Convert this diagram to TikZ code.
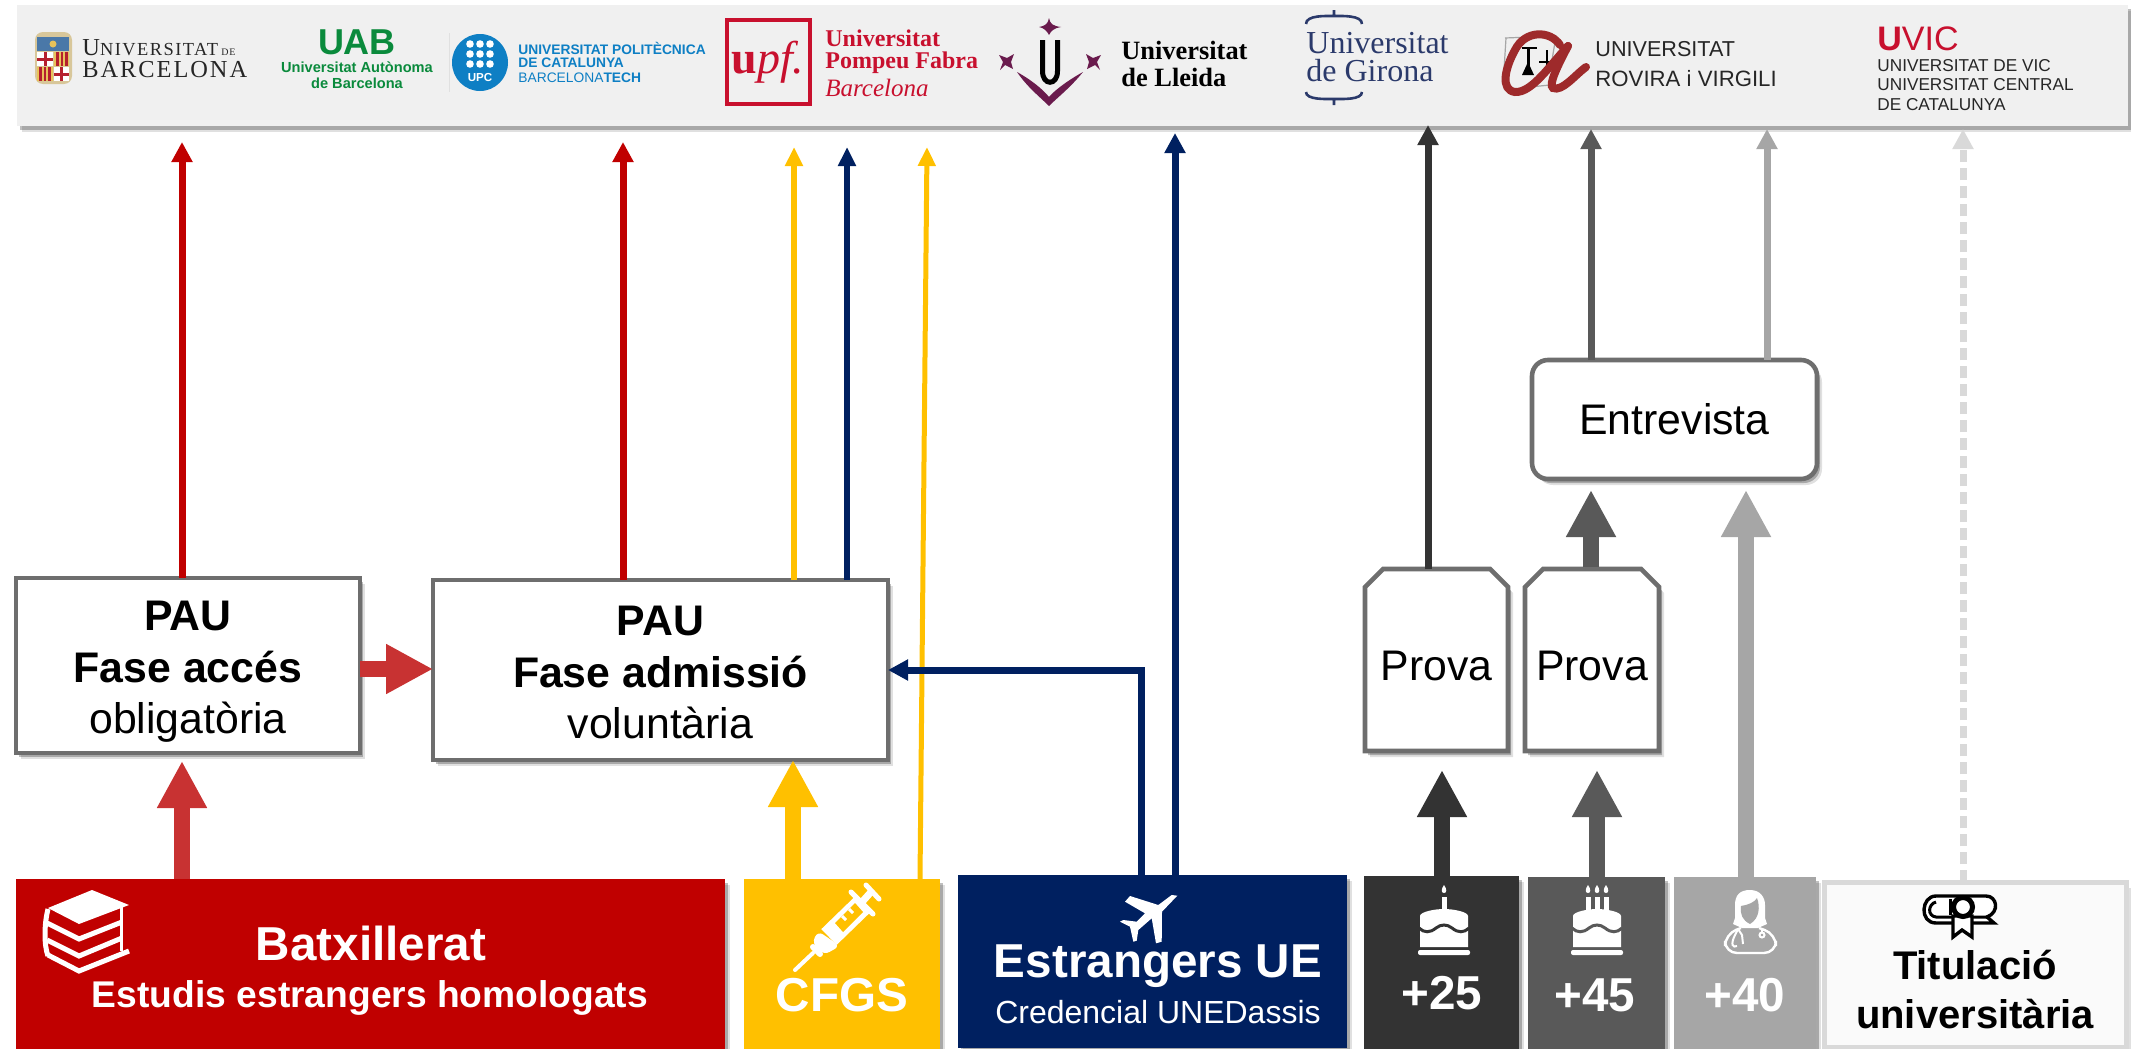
\documentclass[tikz,border=0pt]{standalone}
\usepackage{fontspec}
\setmainfont{Liberation Sans}
\newfontfamily\serifFont{Liberation Serif}
\newfontfamily\ubFont[LetterSpace=8]{Liberation Serif}
\usetikzlibrary{arrows.meta,shadows,shapes.misc}

\definecolor{batRed}{HTML}{C00000}
\definecolor{softRed}{HTML}{C83232}
\definecolor{cfgsYellow}{HTML}{FFC000}
\definecolor{estNavy}{HTML}{002060}
\definecolor{gray25}{HTML}{333333}
\definecolor{gray45}{HTML}{595959}
\definecolor{gray40}{HTML}{A6A6A6}
\definecolor{grayTit}{HTML}{D9D9D9}
\definecolor{boxGray}{HTML}{6E6E6E}
\definecolor{bandGray}{HTML}{F0F0F0}
\definecolor{logoRed}{HTML}{C8102E}
\definecolor{uabGreen}{HTML}{0A8A3C}
\definecolor{upcBlue}{HTML}{0E7FC4}
\definecolor{udlPurple}{HTML}{6A1B4D}
\definecolor{udgBlue}{HTML}{2B3A6B}
\definecolor{urvRed}{HTML}{9E2A2B}
\definecolor{shieldTan}{HTML}{D8C79A}
\definecolor{shieldBlue}{HTML}{4A78A8}
\definecolor{shieldRed}{HTML}{B5202E}
\definecolor{shieldGold}{HTML}{E8C25A}

\tikzset{
    softShadow/.style={drop shadow={shadow xshift=2.5pt,shadow yshift=-3pt,fill=black,opacity=.12},
        drop shadow={shadow xshift=1.5pt,shadow yshift=-2pt,fill=black,opacity=.25}},
    stageBox/.style={draw=boxGray,line width=2.3pt,fill=white,inner sep=0pt,outer sep=0pt,align=center,softShadow,
        font=\fontsize{21.4}{25.8}\selectfont},
    provaBox/.style={stageBox,chamfered rectangle,chamfered rectangle corners={north west,north east},
        chamfered rectangle xsep=4.5pt,chamfered rectangle ysep=4.5pt,text height=20.3pt},
    routeBox/.style={inner sep=0pt,outer sep=0pt,softShadow},
    whiteText/.style={text=white,inner sep=0pt,font=\bfseries\fontsize{23.8}{28}\selectfont},
    logoText/.style={anchor=west,inner sep=0pt,align=left},
    fatArrow/.style={line width=8pt,-{Triangle[length=23.5pt,width=23.5pt]}},
    thinArrow/.style={line width=3.5pt,-{Triangle[length=10pt,width=10pt]}},
    slimArrow/.style={line width=3pt,-{Triangle[length=9.5pt,width=8.5pt]}},
}

\begin{document}
\begin{tikzpicture}[x=0.5pt,y=-0.5pt]
    \useasboundingbox (0,0) rectangle (2131,1049);

    % Band of universities
    \node [routeBox,fill=bandGray,minimum width=1055.5pt,minimum height=60.5pt] (unis) at (1072.5,65.5) {};

    % Stages
    \node [stageBox,minimum width=172pt,minimum height=87.5pt] (pauAcces) at (188,665.5)
        {\rule{0pt}{21pt}\textbf{PAU}\\\textbf{Fase accés}\\obligatòria};
    \node [stageBox,minimum width=227.5pt,minimum height=90pt] (pauAdmissio) at (660.5,670)
        {\rule{0pt}{17.5pt}\textbf{PAU}\\\textbf{Fase admissió}\\voluntària};
    \node [provaBox,minimum width=71.5pt,minimum height=91pt] (provaA) at (1436.5,660) {Prova};
    \node [provaBox,minimum width=67pt,minimum height=91pt] (provaB) at (1592,660) {Prova};
    \node [stageBox,rounded corners=8pt,minimum width=142.5pt,minimum height=59.5pt] (entrevista) at (1674.5,419.5) {Entrevista};

    % Routes
    \node [routeBox,fill=batRed,minimum width=354.5pt,minimum height=85pt] (batxillerat) at (370.5,964) {};
    \node [routeBox,fill=cfgsYellow,minimum width=98pt,minimum height=85pt] (cfgs) at (842,964) {};
    \node [routeBox,fill=estNavy,minimum width=194.5pt,minimum height=86.5pt] (estrangers) at (1152.5,961.5) {};
    \node [routeBox,fill=gray25,minimum width=77.5pt,minimum height=86.5pt] (major25) at (1441.5,962.5) {};
    \node [routeBox,fill=gray45,minimum width=68.5pt,minimum height=86pt] (major45) at (1596.5,963) {};
    \node [routeBox,fill=gray40,minimum width=71pt,minimum height=86pt] (major40) at (1745,963) {};
    \node [routeBox,draw=grayTit,line width=2.5pt,fill=white!98!black,minimum width=151pt,minimum height=82.5pt] (titulacio) at (1975,964.5) {};

    \node [whiteText] (batLabel) at (371,943) {Batxillerat};
    \node [whiteText,font=\bfseries\fontsize{18.6}{22}\selectfont] (batSub) at (370,998) {Estudis estrangers homologats};
    \node [whiteText] (cfgsLabel) at (842,995) {CFGS};
    \node [whiteText] (estLabel) at (1158,966) {Estrangers UE};
    \node [whiteText,font=\fontsize{16}{20}\selectfont] (estSub) at (1158,1012) {Credencial UNEDassis};
    \node [whiteText] (label25) at (1442,993) {+25};
    \node [whiteText] (label45) at (1595,995) {+45};
    \node [whiteText] (label40) at (1745,995) {+40};
    \node [inner sep=0pt,align=center,font=\bfseries\fontsize{20}{24.5}\selectfont] (titLabel) at (1975,990) {Titulació\\universitària};

    % Ends of the connectors
    \coordinate (A) at (182,142);
    \coordinate (B) at (623,142);
    \coordinate (C) at (794,147);
    \coordinate (D) at (847,147);
    \coordinate (E) at (927,147);
    \coordinate (F) at (920,879);
    \coordinate (G) at (1175,133);
    \coordinate (H) at (1428,125);
    \coordinate (I) at (1591,129);
    \coordinate (J) at (1767,129);
    \coordinate (K) at (1963,129);
    \coordinate (L) at (1141,670);

    % Connectors to the universities
    \draw [thinArrow,batRed] (A |- pauAcces.north) -- (A);
    \draw [thinArrow,batRed] (B |- pauAdmissio.north) -- (B);
    \draw [slimArrow,cfgsYellow] (C |- pauAdmissio.north) -- (C);
    \draw [slimArrow,estNavy] (D |- pauAdmissio.north) -- (D);
    \draw [slimArrow,line width=2.5pt,cfgsYellow] (F) -- (E);
    \draw [thinArrow,estNavy] (G |- estrangers.north) -- (G);
    \draw [thinArrow,gray25] (H |- provaA.north) -- (H);
    \draw [thinArrow,gray45] (I |- entrevista.north) -- (I);
    \draw [thinArrow,gray40] (J |- entrevista.north) -- (J);
    \draw [thinArrow,grayTit,dash pattern=on 6pt off 3pt] (K |- titulacio.north) -- (K);
    \draw [thinArrow,estNavy] (L |- estrangers.north) -- (L) -- (pauAdmissio.east |- L);

    % Connectors between the stages
    \draw [fatArrow,softRed] (pauAcces.east |- 0,669) -- (pauAdmissio.west |- 0,669);
    \draw [fatArrow,softRed] (182,879) -- (182,761);
    \draw [fatArrow,cfgsYellow] (793,879) -- (793,760);
    \draw [fatArrow,gray25] (1442,876) -- (1442,770);
    \draw [fatArrow,gray45] (1597,877) -- (1597,770);
    \draw [fatArrow,gray45] (1591,567) -- (1591,490);
    \draw [fatArrow,gray40] (1746,877) -- (1746,490);

    % Draw a cake at x-position 1 with candles at offsets 2 and the wave in colour 3
    \def\drawCake#1#2#3{
        \begin{scope}[shift={(#1,0)},white]
            \fill (-24,947) -- (-24,916) .. controls (-24,912) and (-10,909) .. (0,909) .. controls (10,909) and (24,912) .. (24,916) -- (24,947) -- cycle;
            \draw [#3,line width=1.5pt] (-25,928) .. controls (-20,933) and (-14,933) .. (-8,928) .. controls (-3,924) and (3,924) .. (8,928) .. controls (14,933) and (20,933) .. (25,928);
            \fill [rounded corners=1pt] (-26,950) rectangle (26,955);
            \foreach \cx in {#2} {
                \fill (\cx-2.5,910) rectangle (\cx+2.5,897);
                \fill (\cx,885) .. controls (\cx+3,889) and (\cx+3,893) .. (\cx,893) .. controls (\cx-3,893) and (\cx-3,889) .. (\cx,885);
            }
        \end{scope}
    }
    \drawCake{1444}{0}{gray25}
    \drawCake{1597}{-9,0,9}{gray45}

    % Books
    \fill [white] (92,890) -- (129,905) -- (79,924) -- (48,908) -- cycle;
    \draw [white,line width=2.5pt] (48,909) .. controls (44,925) and (44,945) .. (48,956);
    \draw [white,line width=2.5pt] (47,923) -- (79,939) -- (122,922);
    \draw [white,line width=2.5pt] (47,940) -- (79,956) -- (122,938);
    \draw [white,line width=2.5pt] (48,955) -- (79,971) -- (129,951);
    \draw [white,line width=1.5pt] (121,905) -- (121,951);

    % Syringe
    \draw [white,line width=2pt,line cap=round] (795,970) -- (813,953);
    \draw [white,line width=3pt,line cap=round] (813,947) -- (820,954);
    \fill [white,rounded corners=3pt] (818,931) -- (840,946) -- (824,955) -- (812,943) -- cycle;
    \draw [white,line width=11pt] (829,937) -- (862,905);
    \fill [cfgsYellow] (835,923) -- (843,932) -- (863,912) -- (855,903) -- cycle;
    \draw [white,line width=1.5pt] (842,916) -- (846,920);
    \draw [white,line width=1.5pt] (849,909) -- (853,913);
    \draw [white,line width=2.5pt,line cap=round] (851,892) -- (873,914);
    \draw [white,line width=3.5pt] (862,902) -- (871,892);
    \draw [white,line width=2.5pt,line cap=round] (866,885) -- (879,899);

    % Plane
    \fill [white] (1177.3,895.7) -- (1162,911.7) -- (1161.7,941.7) -- (1156,943.3) -- (1151.7,918.3) -- (1138.3,930) -- (1136.7,940.7) -- (1133.3,941.7) -- (1130,926.7) -- (1120,921.7) -- (1123.3,920) -- (1136.7,921.7) -- (1145,913.3) -- (1125,901.7) -- (1130,896) -- (1158.3,905) -- (1171.7,895) -- cycle;

    % Nurse
    \fill [white] (1750,890) .. controls (1760,890) and (1765,897) .. (1765,905) -- (1765,918) -- (1767,924) -- (1758,928) -- (1742,928) -- (1733,924) -- (1735,918) -- (1735,905) .. controls (1735,895) and (1740,890) .. (1750,890);
    \fill [gray40] (1741,906) .. controls (1748,905) and (1755,902) .. (1757,898) .. controls (1760,906) and (1760,918) .. (1750,924) .. controls (1742,920) and (1740,914) .. (1741,906);
    \draw [white,line width=1.2pt,rounded corners=6pt] (1741,928) -- (1725,934) -- (1725,953) -- (1776,953) -- (1776,934) -- (1759,928);
    \draw [white,line width=1pt] (1738,929) -- (1735,935) .. controls (1730,945) and (1733,948) .. (1737,946);
    \draw [white,line width=1pt] (1738,929) -- (1742,935) -- (1743,944);
    \draw [white,line width=1pt] (1762,929) -- (1762,933);
    \draw [white,line width=1pt] (1762,935) circle (2.5);

    % Diploma
    \draw [line width=1.7pt,fill=white] (1936,896) -- (1986,896) .. controls (1997,896) and (2000,912) .. (1987,917) -- (1994,923) -- (1936,923) .. controls (1919,923) and (1921,896) .. (1936,896);
    \draw [line width=1.5pt] (1936,902) .. controls (1928,904) and (1927,916) .. (1936,917) -- (1987,917);
    \draw [line width=1.5pt] (1950,899) -- (1950,915);
    \draw [line width=1.7pt,fill=white] (1953,916) -- (1953,937) -- (1962,930) -- (1972,937) -- (1972,916) -- cycle;
    \draw [line width=2.5pt,fill=white] (1963,907) circle (9.5);

    % Logo UB
    \fill [shieldTan,rounded corners=4pt] (35,32) rectangle (72,84);
    \fill [shieldBlue] (37,37) rectangle (69,51);
    \fill [shieldGold] (53,44) circle (3.5);
    \fill [white] (37,52) rectangle (53,66);
    \fill [shieldRed] (43.5,52) rectangle (46.5,66);
    \fill [shieldRed] (37,57.5) rectangle (53,60.5);
    \fill [shieldGold] (54,52) rectangle (69,66);
    \foreach \sx in {56,60.5,65} \fill [shieldRed] (\sx,52) rectangle (\sx+2.5,66);
    \fill [shieldGold] (37,67) rectangle (53,81);
    \foreach \sx in {39,43.5,48} \fill [shieldRed] (\sx,67) rectangle (\sx+2.5,81);
    \fill [white] (54,67) rectangle (69,81);
    \fill [shieldRed] (60,67) rectangle (63,81);
    \fill [shieldRed] (54,72.5) rectangle (69,75.5);
    \node [logoText,text=black!85] (ubOne) at (82,48) {\ubFont\fontsize{12.2}{14}\selectfont U\fontsize{9.2}{14}\selectfont NIVERSITAT\fontsize{5}{14}\selectfont\ DE};
    \node [logoText,text=black!85] (ubTwo) at (82,70) {\ubFont\fontsize{12.2}{14}\selectfont BARCELONA};

    % Logo UAB
    \node [inner sep=0pt,text=uabGreen,font=\bfseries\fontsize{18}{20}\selectfont] (uabOne) at (357,42) {UAB};
    \node [inner sep=0pt,text=uabGreen,align=center,font=\bfseries\fontsize{7.3}{8}\selectfont] (uabTwo) at (357,75) {Universitat Autònoma\\de Barcelona};

    % Logo UPC
    \draw [black!12,line width=.5pt] (449,33) -- (449,92);
    \fill [upcBlue] (480,62.5) ellipse (28 and 28.5);
    \foreach \dx in {-10,0,10} \foreach \dy in {44,54,64} \fill [white] (480+\dx,\dy) circle (3.8);
    \node [inner sep=0pt,text=white,font=\bfseries\fontsize{5.8}{7}\selectfont] (upcMark) at (480,78) {UPC};
    \node [logoText,text=upcBlue,font=\fontsize{6.9}{8}\selectfont] (upcOne) at (518,48) {\textbf{UNIVERSITAT POLITÈCNICA}};
    \node [logoText,text=upcBlue,font=\fontsize{6.9}{8}\selectfont] (upcTwo) at (518,63) {\textbf{DE CATALUNYA}};
    \node [logoText,text=upcBlue,font=\fontsize{6.9}{8}\selectfont] (upcThree) at (518,78) {BARCELONA\textbf{TECH}};

    % Logo UPF
    \draw [logoRed,line width=2pt] (727,20) rectangle (810,104);
    \node [inner sep=0pt,text=logoRed,font=\serifFont\fontsize{23}{26}\selectfont] (upfMark) at (768,62) {\textbf{u}\textit{pf.}};
    \node [logoText,text=logoRed,font=\serifFont\fontsize{12}{14}\selectfont] (upfOne) at (825,38) {\textbf{Universitat}};
    \node [logoText,text=logoRed,font=\serifFont\fontsize{12}{14}\selectfont] (upfTwo) at (825,63) {\textbf{Pompeu Fabra}};
    \node [logoText,text=logoRed,font=\serifFont\fontsize{12.5}{14}\selectfont] (upfThree) at (825,88) {\textit{Barcelona}};

    % Logo UdL
    \fill [udlPurple] (1049,18) .. controls (1050,24) and (1053,26) .. (1061,27) .. controls (1054,28) and (1051,31) .. (1049,35) .. controls (1047,31) and (1044,28) .. (1039,27) .. controls (1045,26) and (1048,24) .. (1049,18);
    \draw [black,line width=2.5pt] (1042.5,40) -- (1042.5,71) .. controls (1042.5,86) and (1057.5,86) .. (1057.5,71) -- (1057.5,40);
    \fill [udlPurple] (1017,72) .. controls (1035,82) and (1045,92) .. (1049,97) .. controls (1053,92) and (1065,82) .. (1083,72) .. controls (1070,88) and (1058,97) .. (1049,106) .. controls (1040,97) and (1028,88) .. (1017,72);
    \fill [udlPurple] (999,55) -- (1007,58) -- (1014,54) -- (1011,62) -- (1013,69) -- (1005,65) -- (1000,70) -- (1003,62) -- cycle;
    \fill [udlPurple] (1101,55) -- (1093,58) -- (1086,54) -- (1089,62) -- (1087,69) -- (1095,65) -- (1100,70) -- (1097,62) -- cycle;
    \node [logoText,font=\serifFont\bfseries\fontsize{13.2}{15}\selectfont] (udlOne) at (1121,50) {Universitat};
    \node [logoText,font=\serifFont\bfseries\fontsize{13.2}{15}\selectfont] (udlTwo) at (1121,77) {de Lleida};

    % Logo UdG
    \draw [udgBlue,line width=1.3pt] (1306,24) .. controls (1306,15) and (1326,16) .. (1334,16) -- (1334,10) -- (1334,16) .. controls (1342,16) and (1362,15) .. (1362,24);
    \draw [udgBlue,line width=1.3pt] (1306,92) .. controls (1306,100) and (1326,99) .. (1334,99) -- (1334,105) -- (1334,99) .. controls (1342,99) and (1362,100) .. (1362,92);
    \node [logoText,text=udgBlue,font=\serifFont\fontsize{16}{18}\selectfont] (udgOne) at (1306,43) {Universitat};
    \node [logoText,text=udgBlue,font=\serifFont\fontsize{16}{18}\selectfont] (udgTwo) at (1306,71) {de Girona};

    % Logo URV
    \draw [black!35,line width=.6pt] (1505,38) -- (1556,36) -- (1552,60);
    \draw [black!35,line width=.6pt] (1506,38) -- (1504,70);
    \draw [black!35,line width=.6pt] (1520,88) -- (1550,85);
    \draw [black,line width=1pt] (1522,48) -- (1537,48);
    \draw [black,line width=1.5pt] (1528,48) -- (1528,74);
    \fill [black] (1522,75) -- (1528,62) -- (1534,75) -- cycle;
    \draw [black,line width=1pt] (1547,50) -- (1547,75);
    \draw [black,line width=1pt] (1539,62) -- (1553,62);
    \draw [urvRed,line width=4pt,line cap=round] (1560,45) .. controls (1550,30) and (1525,30) .. (1515,50) .. controls (1505,68) and (1500,90) .. (1515,92) .. controls (1532,93) and (1550,65) .. (1568,46);
    \draw [urvRed,line width=4pt,line cap=round] (1568,46) .. controls (1558,65) and (1548,85) .. (1553,88) .. controls (1562,92) and (1575,75) .. (1586,67);
    \node [logoText,text=black!85,font=\fontsize{10.8}{12}\selectfont] (urvOne) at (1595,49) {UNIVERSITAT};
    \node [logoText,text=black!85,font=\fontsize{11.1}{12}\selectfont] (urvTwo) at (1595,79) {ROVIRA i VIRGILI};

    % Logo UVic
    \node [logoText,text=logoRed,font=\fontsize{17}{20}\selectfont] (uvicOne) at (1877,39) {\textbf{U}VIC};
    \node [logoText,text=black!85,font=\fontsize{8.6}{9.6}\selectfont] (uvicTwo) at (1877,85) {UNIVERSITAT DE VIC\\UNIVERSITAT CENTRAL\\DE CATALUNYA};
\end{tikzpicture}
\end{document}
